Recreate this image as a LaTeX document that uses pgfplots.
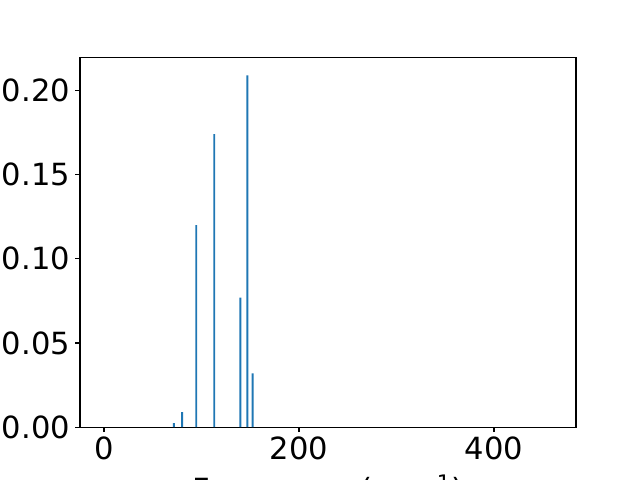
\documentclass[border=0pt]{standalone}
\usepackage{pgfplots}
\pgfplotsset{compat=1.18}
\usepackage{fontspec}
\setmainfont{DejaVu Sans}
\definecolor{tabblue}{HTML}{1F77B4}
\begin{document}
\begin{tikzpicture}[font=\fontsize{22}{26}\selectfont]
\begin{axis}[
  at={(57.6pt,38.0pt)}, anchor=south west,
  scale only axis, width=357.12pt, height=266.1pt,
  xmin=-24.6, xmax=484.1, ymin=0, ymax=0.2195,
  xtick={0,200,400},
  ytick={0,0.05,0.10,0.15,0.20},
  scaled y ticks=false,
  yticklabel style={/pgf/number format/fixed, /pgf/number format/fixed zerofill, /pgf/number format/precision=2},
  /pgf/number format/assume math mode=true,
  tick align=outside, major tick length=3.5pt,
  tick style={black, line width=0.8pt},
  axis line style={line width=0.8pt},
  xtick pos=bottom, ytick pos=left,
  xticklabel style={inner sep=0pt, yshift=-3.5pt},
  yticklabel style={inner sep=0pt, xshift=-3.5pt},
  xlabel={Frequency (cm\textsuperscript{−1})},
  xlabel style={inner sep=0pt, yshift=-10pt},
]
\addplot[ybar, bar width=2, bar shift=0pt, fill=tabblue, draw=none] coordinates {
(71.6,0.0025) (80.2,0.0090) (94.6,0.1200) (113.1,0.1740) (139.8,0.0769) (147.0,0.2089) (152.4,0.0320)
};
\end{axis}
\pgfresetboundingbox
\useasboundingbox (0,0) rectangle (460.8pt,345.6pt);
\end{tikzpicture}
\end{document}
